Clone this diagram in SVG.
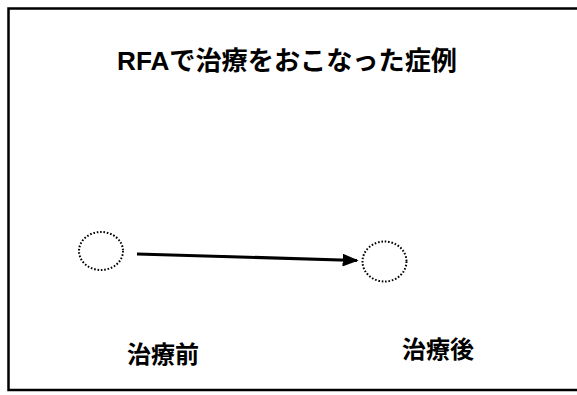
<svg xmlns="http://www.w3.org/2000/svg" width="577" height="395" viewBox="0 0 577 395">
<defs>
<style>
.frame{fill:none;stroke:#000;stroke-width:2.5}
.node{fill:none;stroke:#000;stroke-width:2;stroke-dasharray:1.6 1.8}
.t{font-family:"Liberation Sans","Noto Sans CJK JP",sans-serif;fill:#000;font-weight:bold}
.edge{stroke:#000;stroke-width:3.2;fill:none}
</style>
<marker id="ah" markerWidth="5" markerHeight="4" refX="4.5" refY="2" orient="auto" markerUnits="strokeWidth">
<path d="M0,0 L5,2 L0,4 Z" fill="#000"/>
</marker>
</defs>
<rect width="577" height="395" fill="#fff"/>
<rect class="frame" x="8.5" y="8.5" width="600" height="381.5"/>
<g id="title"><text class="t" x="117" y="70" font-size="26" textLength="340" lengthAdjust="spacingAndGlyphs">RFAで治療をおこなった症例</text></g>
<g id="before">
<ellipse class="node" cx="101" cy="251" rx="22" ry="19"/>
<text class="t" x="127" y="363" font-size="24">治療前</text>
</g>
<g id="after">
<ellipse class="node" cx="384.5" cy="261.5" rx="22" ry="20"/>
<text class="t" x="402" y="358" font-size="24">治療後</text>
</g>
<g id="connectors">
<line class="edge" x1="137" y1="254" x2="357" y2="260.5" marker-end="url(#ah)"/>
</g>
</svg>
